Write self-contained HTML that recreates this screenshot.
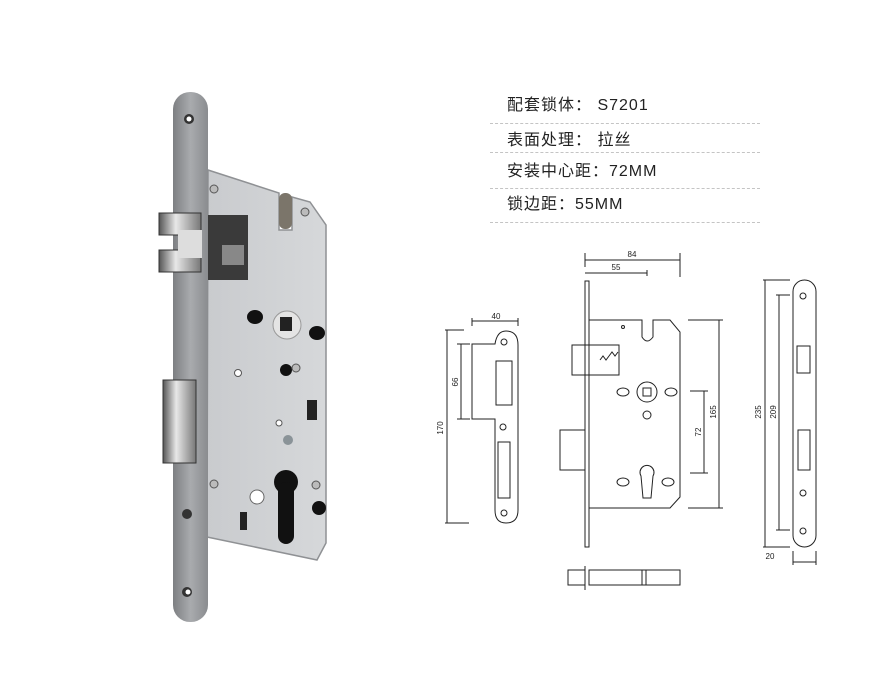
<!DOCTYPE html>
<html><head><meta charset="utf-8"><style>
html,body{margin:0;padding:0;background:#fff;width:880px;height:673px;overflow:hidden}
.t{position:absolute;left:507px;font-family:"Liberation Sans","Noto Sans CJK SC",sans-serif;font-size:16px;color:#222;letter-spacing:1px;line-height:20px}
.d{position:absolute;left:490px;width:270px;border-top:1px dashed #c4c4c4}
</style></head><body>
<div class="t" style="top:96px">配套锁体：&nbsp;S7201</div>
<div class="d" style="top:123px"></div>
<div class="t" style="top:131px">表面处理：&nbsp;拉丝</div>
<div class="d" style="top:152px"></div>
<div class="t" style="top:162px">安装中心距：72MM</div>
<div class="d" style="top:188px"></div>
<div class="t" style="top:195px">锁边距：55MM</div>
<div class="d" style="top:222px"></div>
<svg width="880" height="673" style="position:absolute;left:0;top:0">
<defs>
<linearGradient id="fp" x1="0" x2="1"><stop offset="0" stop-color="#7d7f82"/><stop offset="0.5" stop-color="#a9abae"/><stop offset="1" stop-color="#8a8c8f"/></linearGradient>
<linearGradient id="bd" x1="0" x2="1"><stop offset="0" stop-color="#c9cbce"/><stop offset="1" stop-color="#d6d8da"/></linearGradient>
<linearGradient id="ch" x1="0" x2="1"><stop offset="0" stop-color="#555"/><stop offset="0.4" stop-color="#e8e8e8"/><stop offset="1" stop-color="#777"/></linearGradient>
</defs>
<!-- photo -->
<polygon points="208,170 279,193 279,230 292,230 292,197 310,202 326,225 326,543 317,560 207,537" fill="url(#bd)" stroke="#8f9194" stroke-width="1.5"/>
<rect x="279" y="193" width="13" height="36" rx="6" fill="#7b756a"/>
<rect x="208" y="215" width="40" height="65" fill="#3a3a3a"/>
<rect x="222" y="245" width="22" height="20" fill="#888"/>
<rect x="173" y="92" width="35" height="530" rx="17" fill="url(#fp)"/>
<circle cx="189" cy="119" r="5" fill="#333"/><circle cx="189" cy="119" r="2.5" fill="#fff"/>
<circle cx="187" cy="514" r="5" fill="#333"/>
<circle cx="187" cy="592" r="5" fill="#333"/><circle cx="188" cy="592" r="2.5" fill="#fff"/>
<rect x="159" y="213" width="42" height="22" fill="url(#ch)" stroke="#333"/>
<rect x="159" y="250" width="42" height="22" fill="url(#ch)" stroke="#333"/>
<rect x="178" y="230" width="24" height="28" fill="#ddd"/>
<rect x="163" y="380" width="33" height="83" fill="url(#ch)" stroke="#333"/>
<circle cx="287" cy="325" r="14" fill="#e4e4e4" stroke="#999"/><rect x="280" y="317" width="12" height="14" fill="#222"/>
<ellipse cx="255" cy="317" rx="8" ry="7" fill="#111"/>
<ellipse cx="317" cy="333" rx="8" ry="7" fill="#111"/>
<circle cx="286" cy="370" r="6" fill="#111"/>
<circle cx="238" cy="373" r="3.5" fill="#fff" stroke="#555"/>
<rect x="307" y="400" width="10" height="20" fill="#222"/>
<circle cx="279" cy="423" r="3" fill="#fff" stroke="#555"/>
<circle cx="288" cy="440" r="5" fill="#8a9398"/>
<circle cx="286" cy="482" r="12" fill="#111"/><rect x="278" y="482" width="16" height="62" rx="8" fill="#111"/>
<circle cx="257" cy="497" r="7" fill="#fff" stroke="#666"/>
<circle cx="319" cy="508" r="7" fill="#111"/>
<rect x="240" y="512" width="7" height="18" fill="#222"/>
<g fill="#bbb" stroke="#555"><circle cx="214" cy="189" r="4"/><circle cx="305" cy="212" r="4"/><circle cx="296" cy="368" r="4"/><circle cx="214" cy="484" r="4"/><circle cx="316" cy="485" r="4"/></g>
<!-- drawings -->
<g fill="none" stroke="#222" stroke-width="1">
<path d="M472,344 H495 Q497,331 506,331 Q518,331 518,345 V510 Q518,523 506,523 Q495,523 495,510 V419 H472 Z"/>
<rect x="496" y="361" width="16" height="44"/>
<rect x="498" y="442" width="12" height="56"/>
<circle cx="504" cy="342" r="3"/><circle cx="503" cy="427" r="3"/><circle cx="504" cy="513" r="3"/>
<path d="M445,330 H464 M445,523 H469 M447,330 V523 M461,344 V419 M457,344 H470 M457,419 H470 M472,321 H518 M472,318 V326 M518,318 V326"/>
<rect x="585" y="281" width="4" height="266"/>
<path d="M589,320 H642 V337 Q647,345 653,337 V320 H670 L680,332 V497 L670,508 H589"/>
<rect x="572" y="345" width="17" height="30"/><rect x="589" y="345" width="30" height="30"/>
<path d="M600,360 l3,-4 3,4 3,-4 3,-4 3,4 3,-4"/>
<rect x="560" y="430" width="25" height="40"/>
<circle cx="647" cy="392" r="10"/><rect x="643" y="388" width="8" height="8"/>
<ellipse cx="623" cy="392" rx="6" ry="4"/><ellipse cx="671" cy="392" rx="6" ry="4"/>
<circle cx="647" cy="415" r="4"/>
<path d="M641,476 A7,7 0 1 1 653,476 L651,498 H643 Z"/>
<ellipse cx="623" cy="482" rx="6" ry="4"/><ellipse cx="668" cy="482" rx="6" ry="4"/>
<circle cx="623" cy="327" r="1.5"/>
<path d="M585,253 V267 M680,253 V277 M647,270 V276 M585,260 H680 M585,273 H647"/>
<path d="M688,320 H723 M688,508 H723 M719,320 V508 M690,391 H708 M690,473 H708 M704,391 V473"/>
<path d="M568,570 H585 V585 H568 Z M589,570 H680 V585 H589 Z M585,566 V590 M642,570 V585 M646,570 V585"/>
<rect x="793" y="280" width="23" height="267" rx="11.5"/>
<rect x="797" y="346" width="13" height="27"/><rect x="798" y="430" width="12" height="40"/>
<circle cx="803" cy="296" r="3"/><circle cx="803" cy="493" r="3"/><circle cx="803" cy="531" r="3"/>
<path d="M763,280 H790 M763,547 H790 M765,280 V547 M776,295 H790 M776,530 H790 M779,295 V530 M793,551 V565 M816,551 V565 M793,562 H816"/>
</g>
<g font-family="Liberation Sans,sans-serif" font-size="8" fill="#222" text-anchor="middle">
<text x="496" y="319">40</text>
<text x="632" y="257">84</text>
<text x="616" y="270">55</text>
<text transform="translate(443,428) rotate(-90)">170</text>
<text transform="translate(458,382) rotate(-90)">66</text>
<text transform="translate(701,432) rotate(-90)">72</text>
<text transform="translate(716,412) rotate(-90)">165</text>
<text transform="translate(761,412) rotate(-90)">235</text>
<text transform="translate(776,412) rotate(-90)">209</text>
<text x="770" y="559">20</text>
</g>
</svg>
</body></html>
